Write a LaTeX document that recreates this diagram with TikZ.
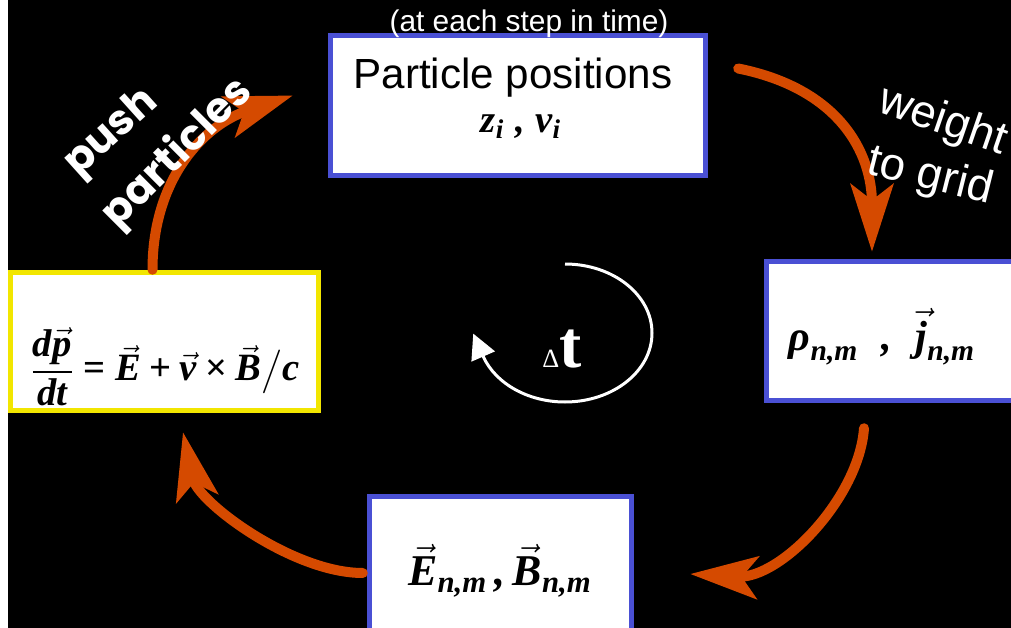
\documentclass[tikz,border=0pt]{standalone}
\usepackage{fontspec}
\usepackage{amsmath}
\setmainfont{Liberation Sans}
\newfontfamily\tmsfont{Liberation Serif}
\newfontfamily\chalkfont{Poppins}
\usetikzlibrary{arrows.meta, calc}
\definecolor{pcblue}{HTML}{4A50D4}
\definecolor{pcyellow}{HTML}{F2E600}
\definecolor{pcorange}{HTML}{D54A00}
\newcommand{\mbi}[1]{\text{\tmsfont\bfseries\itshape #1}}
\newcommand{\mbf}[1]{\mathbin{\text{\tmsfont\bfseries #1}}}

\begin{document}
\begin{tikzpicture}[
  x=0.02cm, y=-0.02cm,
  pbox/.style={draw=pcblue, line width=0.11cm, fill=white, inner sep=0pt},
  ybox/.style={pbox, draw=pcyellow},
  mathtxt/.style={inner sep=0pt, font=\fontsize{22}{26}\selectfont},
  arr/.style={pcorange, line width=0.2cm, line cap=round, -{Stealth[length=1.35cm, width=0.85cm, inset=0.32cm]}},
  looparr/.style={white, line width=0.06cm, -{Triangle[length=0.5cm, width=0.5cm]}},
  lbl/.style={text=white, inner sep=0pt, font=\fontsize{26}{30}\selectfont},
  chalklbl/.style={lbl, font=\chalkfont\bfseries\fontsize{24}{28}\selectfont}
]
  \clip (0,0) rectangle (1011,628);
  \fill[white] (0,0) rectangle (1011,628);
  \fill[black] (8,0) rectangle (1011,628);

  \node[pbox, minimum width=7.5cm, minimum height=2.8cm] (parts) at (518,105.5) {};
  \node[inner sep=0pt, font=\fontsize{24}{28}\selectfont] (partsttl) at (513,78) {Particle positions};
  \node[mathtxt] (partsvar) at (521,127) {$\mbi{z}_{\mbi{i}}$ \mbi{,} $\mbi{v}_{\mbi{i}}$};
  \node[pbox, minimum width=4.94cm, minimum height=2.78cm] (grid) at (890,331) {};
  \node[mathtxt, font=\fontsize{24}{28}\selectfont] (gridvar) at (882,337)
    {$\mbi{ρ}_{\mbi{n,m}}$ \ \mbi{,} \ $\vec{\mbi{j}}_{\mbi{n,m}}$};
  \node[pbox, minimum width=5.24cm, minimum height=2.82cm] (fields) at (500.5,567) {};
  \node[mathtxt, font=\fontsize{25}{29}\selectfont] (fieldsvar) at (500,571)
    {$\vec{\mbi{E}}_{\mbi{n,m}}\,\mbi{,}\,\vec{\mbi{B}}_{\mbi{n,m}}$};
  \node[ybox, minimum width=6.16cm, minimum height=2.76cm] (push) at (164.5,341.5) {};
  \node[mathtxt] (pusheq) at (165,367)
    {$\displaystyle\frac{\mbi{d}\vec{\mbi{p}}}{\mbi{dt}}\mathrel{\text{\tmsfont\bfseries =}}\vec{\mbi{E}}\mbf{+}\vec{\mbi{v}}\mbf{×}\vec{\mbi{B}}\big/\mbi{c}$};

  \node[text=white, font=\fontsize{17}{20}\selectfont, anchor=base] (note) at (529,32) {(at each step in time)};

  % the cycle
  \draw[arr] ([shift={(30,-37)}]parts.east) .. controls +(100,20) and +(0,-100) .. ([shift={(-18,-7)}]grid.north);
  \draw[arr] ([shift={(-26,25)}]grid.south) .. controls +(-5,70) and +(90,5) .. ([shift={(56,7)}]fields.east);
  \draw[arr] ([shift={(-4,6)}]fields.west) .. controls +(-70,0) and +(15,70) .. ([shift={(18.5,19)}]push.south);
  \draw[arr] ([shift={(-12,0)}]push.north) .. controls +(0,-90) and +(-90,30) .. ([shift={(-35,-10)}]parts.west);

  \node[lbl, rotate=-19] (weight) at (943,122) {weight};
  \node[lbl, rotate=-14] (togrid) at (930,177) {to grid};
  \node[chalklbl, rotate=42] (pushlbl) at (112,134) {push};
  \node[chalklbl, rotate=45] (partlbl) at (178,154) {particles};

  % time step loop
  \coordinate (loopstart) at (565,264);
  \draw[looparr] (loopstart) arc[start angle=-90, end angle=160, x radius=87, y radius=69] -- ++(-10,-23);
  \node[text=white, anchor=base, inner sep=0pt] (dt) at (562,367)
    {\tmsfont\fontsize{15}{15}\selectfont Δ\bfseries\fontsize{38}{42}\selectfont t};
\end{tikzpicture}
\end{document}
